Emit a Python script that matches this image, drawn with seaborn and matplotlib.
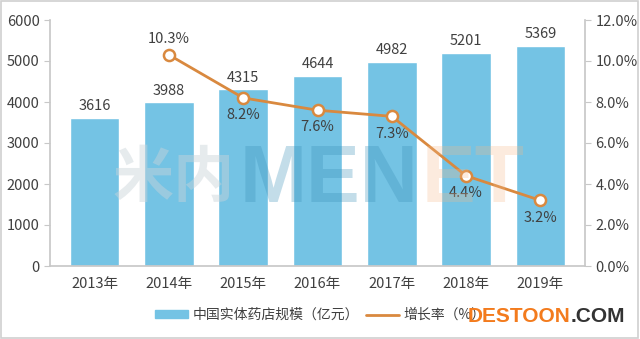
import matplotlib
matplotlib.use("Agg")
import matplotlib.pyplot as plt
import matplotlib.ticker as mticker
from matplotlib.patches import Rectangle
from matplotlib.lines import Line2D
import seaborn as sns
import pandas as pd

years = ["2013年", "2014年", "2015年", "2016年", "2017年", "2018年", "2019年"]
scale = [3616, 3988, 4315, 4644, 4982, 5201, 5369]
growth_years = ["2014年", "2015年", "2016年", "2017年", "2018年", "2019年"]
growth = [10.3, 8.2, 7.6, 7.3, 4.4, 3.2]

sns.set_theme(style="white")
plt.rcParams["font.family"] = ["Noto Sans CJK SC", "DejaVu Sans"]

BAR = "#74c3e4"
LINE = "#d9893f"
TXT = "#404040"
SPINE = "#c8c8c8"

fig = plt.figure(figsize=(6.4, 3.39), dpi=100)
ax = fig.add_axes([50 / 640, 1 - 266 / 339, 535 / 640, 246 / 339])

df = pd.DataFrame({"year": years, "scale": scale})
sns.barplot(data=df, x="year", y="scale", color=BAR, width=0.67,
            saturation=1, ax=ax, zorder=2)
ax.set_xlim(-0.6, 6.6)
ax.set_ylim(0, 6000)
ax.set_yticks(range(0, 6001, 1000))
ax.set_xlabel("")
ax.set_ylabel("")

for i, v in enumerate(scale):
    ax.text(i, v + 110, str(v), ha="center", va="bottom", fontsize=10.5, color=TXT)

ax2 = ax.twinx()
gdf = pd.DataFrame({"x": [years.index(y) for y in growth_years], "g": growth})
sns.lineplot(data=gdf, x="x", y="g", color=LINE, linewidth=2, ax=ax2,
             marker="o", markersize=8, markerfacecolor="white",
             markeredgecolor=LINE, markeredgewidth=1.8, zorder=4)
ax2.set_ylim(0, 12)
ax2.set_yticks(range(0, 13, 2))
ax2.yaxis.set_major_formatter(mticker.FuncFormatter(lambda v, p: f"{v:.1f}%"))
ax2.set_xlim(-0.6, 6.6)
ax2.set_xlabel("")
ax2.set_ylabel("")

for x, g in zip(gdf["x"], growth):
    if g > 10:
        ax2.text(x, g + 0.45, f"{g}%", ha="center", va="bottom", fontsize=10.5, color=TXT)
    else:
        ax2.text(x, g - 0.5, f"{g}%", ha="center", va="top", fontsize=10.5, color=TXT)

for a in (ax, ax2):
    a.spines["top"].set_visible(False)
    for s in ("left", "right", "bottom"):
        a.spines[s].set_color(SPINE)
    a.tick_params(axis="both", colors=TXT, labelsize=10.5, length=4, width=0.8)
    a.tick_params(axis="y", color=SPINE)
    a.tick_params(axis="x", length=0, pad=8)
ax.spines["right"].set_visible(False)
ax2.spines["left"].set_visible(False)
ax2.spines["bottom"].set_visible(False)

handles = [Rectangle((0, 0), 1, 1, color=BAR),
           Line2D([0], [0], color=LINE, linewidth=2)]
fig.legend(handles, ["中国实体药店规模（亿元）", "增长率（%）"], loc="center left",
           bbox_to_anchor=(155 / 640, 1 - 315 / 339), ncol=2, frameon=False,
           fontsize=10, labelcolor=TXT, handlelength=2.4, handleheight=0.5,
           columnspacing=0.5, handletextpad=0.3, borderpad=0, borderaxespad=0)

# site mark: pieces laid out one after another, faint over the plot
renderer = fig.canvas.get_renderer()
x0 = 113
for piece, col, alpha, size, fam in [
        ("米内", "#c9d3d9", 0.45, 44, ["Noto Sans CJK SC"]),
        ("MEN", "#3a8fb7", 0.3, 58, ["Liberation Sans"]),
        ("ET", "#f5b98a", 0.28, 58, ["Liberation Sans"])]:
    t = fig.text(x0 / 640, 1 - 173 / 339, piece, fontsize=size, fontweight="bold",
                 color=col, alpha=alpha, ha="left", va="center_baseline", zorder=10,
                 family=fam)
    bb = t.get_window_extent(renderer)
    x0 += bb.width + 4

# site logo in the lower right corner
t = fig.text(468 / 640, 1 - 316 / 339, "DESTOON", fontsize=15, fontweight="bold",
             color="#f37b1d", ha="left", va="center", zorder=12,
             family="Liberation Sans")
bb = t.get_window_extent(renderer)
fig.text((468 + bb.width) / 640, 1 - 316 / 339, ".COM", fontsize=15,
         fontweight="bold", color="#333333", ha="left", va="center", zorder=12,
         family="Liberation Sans")

fig.patches.append(Rectangle((0.002, 0.003), 0.995, 0.994, transform=fig.transFigure,
                             fill=False, edgecolor="#d0d0d0", linewidth=1.2))

fig.savefig("out.png", dpi=100)
